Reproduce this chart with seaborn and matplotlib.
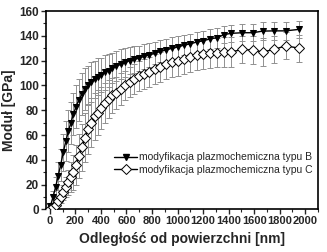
import matplotlib
matplotlib.use("Agg")
import matplotlib.pyplot as plt
import seaborn as sns
import pandas as pd
from matplotlib.lines import Line2D

# Distance from surface [nm]
depth = [5, 25, 45, 65, 85, 105, 125, 145, 165, 185, 205, 225, 250, 275, 300,
         325, 350, 375, 400, 430, 460, 490, 520, 555, 590, 625, 660, 700, 740,
         780, 820, 865, 910, 955, 1000, 1050, 1100, 1150, 1200, 1255, 1310,
         1365, 1421, 1506, 1589, 1667, 1757, 1847, 1951]

# Modulus, type B modification [GPa]
mod_b = [3, 10, 18, 27, 36, 46, 55, 63, 70, 77, 83, 88, 93, 97, 100,
         103, 105, 107, 108.5, 110.5, 112, 114, 115.5, 117, 118.5, 120, 121, 122, 123.5,
         124.5, 126, 127.5, 128.5, 130, 131, 132.5, 133.5, 135, 136, 137.5, 138.5,
         141, 142, 142.5, 142.5, 143.8, 144, 144, 145.2]
err_b = [2, 5, 8, 11, 13, 15, 16, 17, 17, 17, 17, 17, 17, 17, 16,
         16, 15, 15, 14, 14, 13, 12, 12, 12, 12, 11, 11, 10, 10,
         10, 9, 9, 9, 9, 9, 8, 8, 8, 8, 8, 8,
         7, 7, 7, 7, 7, 7, 7, 7]

# Modulus, type C modification [GPa]
mod_c = [0.5, 2, 4, 7, 10, 14, 18, 22, 26, 30, 36, 43, 50, 58, 65,
         70, 75, 78, 82, 86, 89, 92, 94, 97, 100, 103, 105, 107.5, 109.5,
         111, 113, 115, 117, 118.5, 120, 121.5, 123, 124.5, 125.5, 126, 126.5,
         127, 127, 129, 128.5, 127, 129, 132, 130]
err_c = [1, 2, 3, 4, 5, 6, 8, 10, 12, 14, 16, 18, 19, 20, 20,
         20, 19, 18, 17, 16, 15, 14, 13, 13, 12, 12, 12, 12, 12,
         12, 12, 12, 12, 12, 12, 12, 12, 12, 12, 12, 12,
         12, 12, 11, 11, 11, 11, 11, 11]

labels = ["modyfikacja plazmochemiczna typu B", "modyfikacja plazmochemiczna typu C"]
x_ticks = [0, 200, 400, 600, 800, 1000, 1200, 1400, 1600, 1800, 2000]
y_ticks = [0, 20, 40, 60, 80, 100, 120, 140, 160]

sns.set_theme(style="ticks")
plt.rcParams['font.family'] = ['Liberation Sans', 'DejaVu Sans']

df = pd.DataFrame({
    "x": depth + depth,
    "y": mod_b + mod_c,
    "err": err_b + err_c,
    "s": [labels[0]] * len(depth) + [labels[1]] * len(depth),
})

fig = plt.figure(figsize=(3.27, 2.52), dpi=100)
ax = fig.add_axes([0.1407, 0.1687, 0.8318, 0.7876])

# error bars
for lab in labels:
    d = df[df.s == lab]
    ax.errorbar(d.x, d.y, yerr=d.err, fmt="none", ecolor="#909090",
                elinewidth=0.7, capsize=2.0, capthick=0.7, zorder=1)

sns.lineplot(data=df, x="x", y="y", hue="s", style="s",
             palette=["black", "black"], markers=["v", "D"], dashes=False,
             linewidth=1.0, markersize=5, ax=ax, zorder=3, legend=False)
lines = ax.get_lines()
lines[-2].set_markerfacecolor("black")
lines[-2].set_markeredgecolor("black")
lines[-2].set_markersize(5)
lines[-1].set_markerfacecolor("white")
lines[-1].set_markeredgecolor("black")
lines[-1].set_markeredgewidth(0.7)
lines[-1].set_markersize(5)

ax.set_xlim(-30, 2077)
ax.set_ylim(0, 160)
ax.set_xticks(x_ticks)
ax.set_yticks(y_ticks)
ax.set_xticks([v + 100 for v in x_ticks], minor=True)
ax.set_yticks([v + 10 for v in y_ticks[:-1]], minor=True)
ax.tick_params(axis="both", which="major", direction="out", length=3.5, width=1, pad=1.5)
ax.tick_params(axis="x", which="major", labelsize=8)
ax.tick_params(axis="y", which="major", labelsize=8.5)
ax.tick_params(axis="both", which="minor", direction="out", length=2, width=0.8)
for t in ax.get_xticklabels() + ax.get_yticklabels():
    t.set_fontweight("bold")
for sp in ax.spines.values():
    sp.set_visible(True)
    sp.set_linewidth(1.2)
    sp.set_color("black")

ax.set_xlabel("Odległość od powierzchni [nm]", fontsize=10, fontweight="bold", labelpad=4)
ax.set_ylabel("Moduł [GPa]", fontsize=10, fontweight="bold", labelpad=2)

handles = [
    Line2D([], [], color="black", lw=1.0, marker="v", markersize=5,
           markerfacecolor="black", markeredgecolor="black"),
    Line2D([], [], color="black", lw=1.0, marker="D", markersize=5,
           markerfacecolor="white", markeredgecolor="black", markeredgewidth=0.7),
]
ax.legend(handles, labels, loc="lower right", bbox_to_anchor=(1.0, 0.15),
          frameon=False, fontsize=7.5, handlelength=2.2, handletextpad=0.2,
          labelspacing=0.2, borderaxespad=0.1)

fig.savefig("out.png", dpi=100)
